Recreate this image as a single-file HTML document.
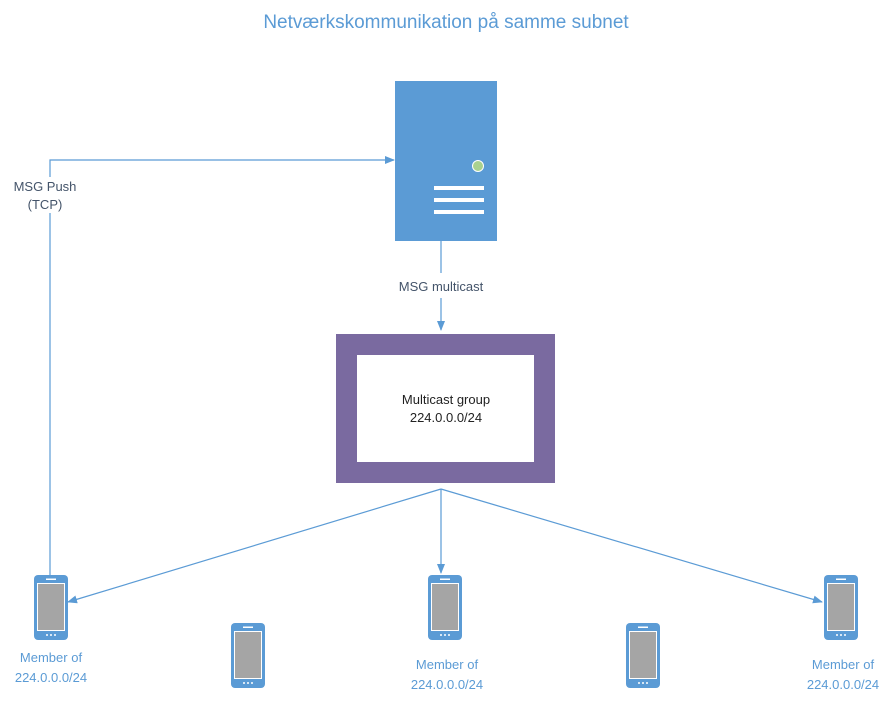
<!DOCTYPE html>
<html><head><style>body{margin:0;background:#fff}svg{display:block;font-family:"Liberation Sans",sans-serif}</style></head><body>
<svg width="893" height="702" viewBox="0 0 893 702">
<defs>
<marker id="a" markerWidth="10" markerHeight="8" refX="9" refY="4" orient="auto" markerUnits="userSpaceOnUse"><path d="M0,0L10,4L0,8z" fill="#5B9BD5"/></marker>
<g id="ph">
<rect x="0" y="0" width="34" height="65" rx="4" fill="#5B9BD5"/>
<rect x="3" y="8" width="28" height="48" fill="#fff"/>
<rect x="4" y="9" width="26" height="46" fill="#A5A5A5"/>
<rect x="12" y="3.5" width="10" height="1.5" fill="#fff"/>
<circle cx="13" cy="60" r="1" fill="#fff"/><circle cx="17" cy="60" r="1" fill="#fff"/><circle cx="21" cy="60" r="1" fill="#fff"/>
</g>
</defs>
<text x="446" y="28" text-anchor="middle" font-size="19" fill="#5B9BD5">Netværkskommunikation på samme subnet</text>
<rect x="395" y="81" width="102" height="160" fill="#5B9BD5"/>
<circle cx="478" cy="166" r="5.5" fill="#A9D18E" stroke="#fff" stroke-width="1"/>
<rect x="434" y="186" width="50" height="4" fill="#fff"/>
<rect x="434" y="198" width="50" height="4" fill="#fff"/>
<rect x="434" y="210" width="50" height="4" fill="#fff"/>
<g stroke="#5B9BD5" stroke-width="1.2" fill="none">
<path d="M50,575V160H394" marker-end="url(#a)"/>
<path d="M441,241V273"/>
<path d="M441,298V330" marker-end="url(#a)"/>
<path d="M441,489L68,602" marker-end="url(#a)"/>
<path d="M441,489V573" marker-end="url(#a)"/>
<path d="M441,489L822,602" marker-end="url(#a)"/>
</g>
<rect x="20" y="177" width="60" height="36" fill="#fff"/>
<text x="45" y="191" text-anchor="middle" font-size="13" fill="#44546A">MSG Push</text>
<text x="45" y="209" text-anchor="middle" font-size="13" fill="#44546A">(TCP)</text>
<text x="441" y="291" text-anchor="middle" font-size="13" fill="#44546A">MSG multicast</text>
<rect x="346.5" y="344.5" width="198" height="128" fill="#fff" stroke="#7A6AA0" stroke-width="21"/>
<text x="446" y="404" text-anchor="middle" font-size="13" fill="#222">Multicast group</text>
<text x="446" y="422" text-anchor="middle" font-size="13" fill="#222">224.0.0.0/24</text>
<use href="#ph" x="34" y="575"/>
<use href="#ph" x="231" y="623"/>
<use href="#ph" x="428" y="575"/>
<use href="#ph" x="626" y="623"/>
<use href="#ph" x="824" y="575"/>
<g font-size="13" fill="#5B9BD5" text-anchor="middle">
<text x="51" y="662">Member of</text><text x="51" y="682">224.0.0.0/24</text>
<text x="447" y="669">Member of</text><text x="447" y="689">224.0.0.0/24</text>
<text x="843" y="669">Member of</text><text x="843" y="689">224.0.0.0/24</text>
</g>
</svg>
</body></html>
